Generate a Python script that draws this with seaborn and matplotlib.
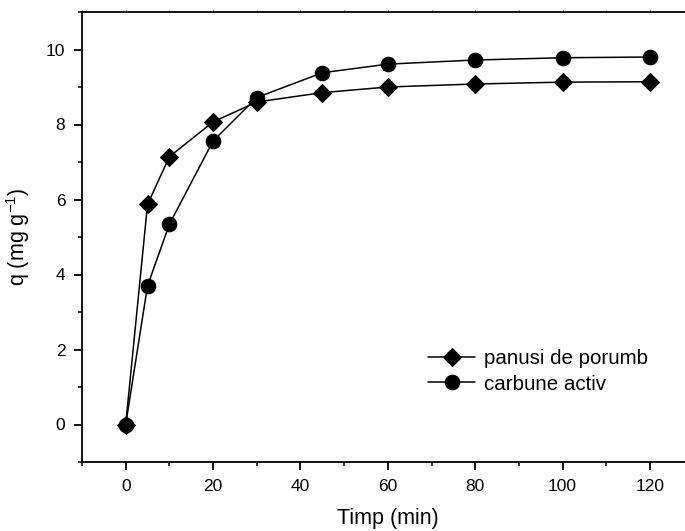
import matplotlib
matplotlib.use("Agg")
import matplotlib.pyplot as plt
from matplotlib.ticker import MultipleLocator
import seaborn as sns
import pandas as pd

# Contact time (min)
time_min = [0, 5, 10, 20, 30, 45, 60, 80, 100, 120]
# Adsorbed amount q (mg/g) for each adsorbent
q_corn_husks = [0.0, 5.87, 7.14, 8.07, 8.60, 8.85, 9.00, 9.08, 9.13, 9.14]
q_activated_carbon = [0.0, 3.70, 5.34, 7.56, 8.72, 9.38, 9.61, 9.72, 9.78, 9.80]

label_corn = "panusi de porumb"
label_carbon = "carbune activ"

sns.set_theme(style="ticks")
plt.rcParams["font.family"] = ["Liberation Sans", "DejaVu Sans"]
plt.rcParams["mathtext.fontset"] = "custom"
plt.rcParams["mathtext.rm"] = "Liberation Sans"
plt.rcParams["mathtext.it"] = "Liberation Sans"
plt.rcParams["text.color"] = "black"
plt.rcParams["axes.labelcolor"] = "black"

df = pd.DataFrame({
    "t": time_min * 2,
    "q": q_corn_husks + q_activated_carbon,
    "series": [label_corn] * len(time_min) + [label_carbon] * len(time_min),
})

fig = plt.figure(figsize=(6.85, 5.31), dpi=100)
ax = fig.add_axes([82 / 685, 1 - 462 / 531, (693.7 - 82) / 685, (462 - 12) / 531])

sns.lineplot(data=df[df.series == label_corn], x="t", y="q", ax=ax,
             color="black", marker="D", markersize=9.5, linewidth=1.1,
             markeredgecolor="black", label=label_corn)
sns.lineplot(data=df[df.series == label_carbon], x="t", y="q", ax=ax,
             color="black", marker="o", markersize=10.5, linewidth=1.1,
             markeredgecolor="black", label=label_carbon)

ax.set_xlim(-10, 130)
ax.set_ylim(-1, 11)
ax.xaxis.set_major_locator(MultipleLocator(20))
ax.xaxis.set_minor_locator(MultipleLocator(10))
ax.yaxis.set_major_locator(MultipleLocator(2))
ax.yaxis.set_minor_locator(MultipleLocator(1))

for side in ["left", "bottom", "top", "right"]:
    ax.spines[side].set_linewidth(1.3)
    ax.spines[side].set_color("black")

ax.tick_params(which="major", direction="out", length=6, width=1.3,
               labelsize=12.5, colors="black", pad=6)
ax.tick_params(which="minor", direction="out", length=3, width=1.3)
# faint short ticks along the top frame
ax.tick_params(axis="x", which="both", top=True, labeltop=False)
for tick in ax.xaxis.get_major_ticks() + ax.xaxis.get_minor_ticks():
    tick.tick2line.set_markersize(1.5)
    tick.tick2line.set_markeredgewidth(0.8)

ax.set_xlabel("Timp (min)", fontsize=15.5, labelpad=10)
ax.set_ylabel(r"q (mg g$^{\mathregular{-1}}$)", fontsize=15.5, labelpad=10)

leg = ax.legend(loc="upper left", bbox_to_anchor=(0.566, 0.25), frameon=False,
                fontsize=14.8, handlelength=2.3, handletextpad=0.4,
                borderpad=0, borderaxespad=0, labelspacing=0.3)

fig.savefig("out.png", dpi=100)
